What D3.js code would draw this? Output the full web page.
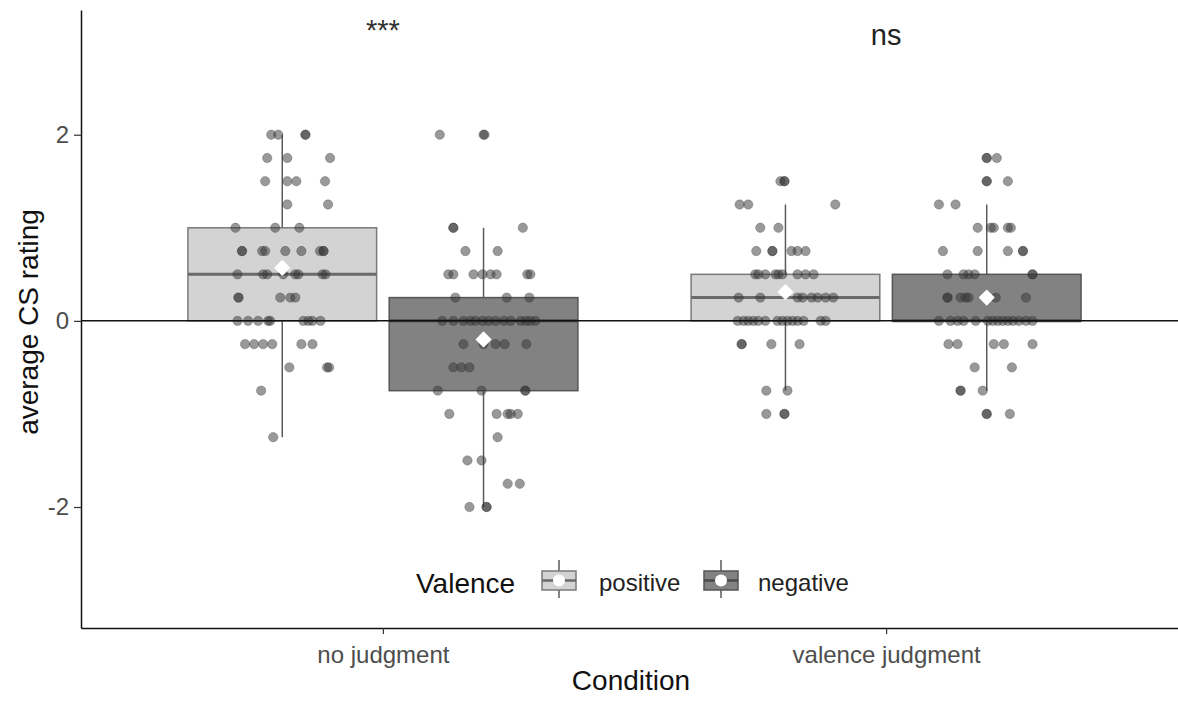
<!DOCTYPE html>
<html>
<head>
<meta charset="utf-8">
<script src="https://cdn.jsdelivr.net/npm/d3@7"></script>
<style>
body { margin: 0; background: #fff; }
text { font-family: "Liberation Sans", Arial, sans-serif; }
</style>
</head>
<body>
<svg id="chart" width="1178" height="702"></svg>
<script>
const svgEl = document.getElementById("chart")
const width = +svgEl.getAttribute("width")
const height = +svgEl.getAttribute("height")
const svg = d3.select("#chart")

// dati
const conditions = ["no judgment", "valence judgment"]
const valences = ["positive", "negative"]
const yTicks = [-2, 0, 2]
// statistiche dei box, [condizione][valenza]
const whiskLo = [[-1.25, -2], [-0.75, -0.75]]
const q1 = [[0, -0.75], [0, 0]]
const median = [[0.5, 0], [0.25, 0]]
const q3 = [[1, 0.25], [0.5, 0.5]]
const whiskHi = [[2, 1], [1.25, 1.25]]
const means = [[0.57, -0.2], [0.31, 0.25]]
const signif = ["***", "ns"]

// punti: [valore, [jitter in unita' dell'asse x]]
const ptsNoPos = [
  [2, [-0.022, -0.008, 0.046, 0.046]],
  [1.75, [-0.03, 0.01, 0.095]],
  [1.5, [-0.034, 0.01, 0.028, 0.085]],
  [1.25, [0.01, 0.091]],
  [1, [-0.093, -0.014, 0.034]],
  [0.75, [-0.08, -0.08, -0.04, -0.034, 0.006, 0.038, 0.075, 0.082, 0.082]],
  [0.5, [-0.089, -0.038, -0.03, 0.002, 0.026, 0.032, 0.08, 0.086]],
  [0.25, [-0.087, -0.087, -0.004, 0.016, 0.026]],
  [0, [-0.089, -0.068, -0.048, -0.028, -0.024, 0.042, 0.052, 0.06, 0.076]],
  [-0.25, [-0.074, -0.056, -0.038, -0.02, 0.038, 0.06]],
  [-0.5, [0.014, 0.089, 0.093]],
  [-0.75, [-0.042]],
  [-1.25, [-0.018]]
]
const ptsNoNeg = [
  [2, [-0.087, 0, 0.002]],
  [1, [-0.06, -0.06, 0.078]],
  [0.75, [-0.036, 0.028]],
  [0.5, [-0.07, -0.06, -0.02, -0.002, 0.014, 0.026, 0.087, 0.093]],
  [0.25, [-0.056, 0.046, 0.091]],
  [0, [-0.082, -0.06, -0.04, -0.026, -0.016, -0.002, 0.01, 0.024, 0.04, 0.054, 0.074, 0.084, 0.093, 0.103]],
  [-0.25, [-0.04, 0, 0.024, 0.042, 0.085]],
  [-0.5, [-0.06, -0.044, -0.028]],
  [-0.75, [-0.091, -0.004, 0.083, 0.083]],
  [-1, [-0.068, 0.026, 0.048, 0.054, 0.068]],
  [-1.25, [0.028]],
  [-1.5, [-0.032, -0.004]],
  [-1.75, [0.048, 0.072]],
  [-2, [-0.028, 0.006, 0.006]]
]
const ptsValPos = [
  [1.5, [-0.01, -0.002, -0.002]],
  [1.25, [-0.091, -0.074, 0.099]],
  [1, [-0.05, -0.014]],
  [0.75, [-0.058, -0.026, -0.026, 0.012, 0.024, 0.04]],
  [0.5, [-0.06, -0.054, -0.04, -0.02, -0.014, -0.006, 0.024, 0.04, 0.056]],
  [0.25, [-0.093, -0.05, 0.024, 0.034, 0.052, 0.064, 0.08, 0.095]],
  [0, [-0.095, -0.083, -0.074, -0.064, -0.054, -0.04, -0.016, -0.006, 0.004, 0.014, 0.024, 0.036, 0.07, 0.08]],
  [-0.25, [-0.087, -0.087, -0.028, 0.028]],
  [-0.75, [-0.038, 0.004]],
  [-1, [-0.038, -0.002, -0.002]]
]
const ptsValNeg = [
  [1.75, [0, 0, 0.02]],
  [1.5, [0, 0, 0.042]],
  [1.25, [-0.095, -0.062]],
  [1, [-0.018, 0.008, 0.014, 0.042, 0.048]],
  [0.75, [-0.087, -0.018, 0.042, 0.072, 0.072]],
  [0.5, [-0.078, -0.046, -0.036, -0.024, 0.091, 0.091]],
  [0.25, [-0.078, -0.078, -0.052, -0.042, -0.036, 0.018, 0.078]],
  [0, [-0.095, -0.072, -0.058, -0.046, -0.022, 0.002, 0.012, 0.022, 0.032, 0.042, 0.052, 0.064, 0.078, 0.091]],
  [-0.25, [-0.076, -0.058, 0.014, 0.034, 0.091]],
  [-0.5, [-0.024, 0.05]],
  [-0.75, [-0.052, -0.052, -0.008]],
  [-1, [0, 0, 0.046]]
]
const points = [[ptsNoPos, ptsNoNeg], [ptsValPos, ptsValNeg]]

// stile
const fillColor = { positive: "#d3d3d3", negative: "#828282" }
const strokeColor = { positive: "#7a7a7a", negative: "#555555" }
const dodge = { positive: -0.2, negative: 0.2 }
const boxW = 0.375

const padLeft = 81, padBottom = 628, padTop = 10
const x = d3.scaleLinear().domain([0.4, 2.6]).range([padLeft, 1188])
const y = d3.scaleLinear().domain([-3.3, 3.34]).range([padBottom, padTop])

// tabella piatta per i box
const boxes = []
conditions.forEach((c, i) => valences.forEach((v, j) => {
  boxes.push({ c: i + 1, v: v, lo: whiskLo[i][j], q1: q1[i][j], med: median[i][j],
    q3: q3[i][j], hi: whiskHi[i][j], mean: means[i][j], pts: points[i][j] })
}))

const gBox = svg.append("g")
boxes.forEach(b => {
  const cx = x(b.c + dodge[b.v])
  gBox.append("line").attr("x1", cx).attr("x2", cx).attr("y1", y(b.hi)).attr("y2", y(b.q3))
    .attr("stroke", "#5a5a5a").attr("stroke-width", 1.5)
  gBox.append("line").attr("x1", cx).attr("x2", cx).attr("y1", y(b.q1)).attr("y2", y(b.lo))
    .attr("stroke", "#5a5a5a").attr("stroke-width", 1.5)
  gBox.append("rect")
    .attr("x", x(b.c + dodge[b.v] - boxW / 2))
    .attr("width", x(b.c + dodge[b.v] + boxW / 2) - x(b.c + dodge[b.v] - boxW / 2))
    .attr("y", y(b.q3)).attr("height", y(b.q1) - y(b.q3))
    .attr("fill", fillColor[b.v]).attr("stroke", strokeColor[b.v]).attr("stroke-width", 1.5)
  gBox.append("line")
    .attr("x1", x(b.c + dodge[b.v] - boxW / 2)).attr("x2", x(b.c + dodge[b.v] + boxW / 2))
    .attr("y1", y(b.med)).attr("y2", y(b.med))
    .attr("stroke", b.v == "positive" ? "#6a6a6a" : "#4a4a4a").attr("stroke-width", 3)
})

// punti jitter
const gPts = svg.append("g")
boxes.forEach(b => {
  b.pts.forEach(row => {
    row[1].forEach(j => {
      gPts.append("circle")
        .attr("cx", x(b.c + dodge[b.v] + j)).attr("cy", y(row[0])).attr("r", 4.7)
        .attr("fill", "#333").attr("fill-opacity", 0.5)
        .attr("stroke", "#333").attr("stroke-opacity", 0.35).attr("stroke-width", 0.8)
    })
  })
})

// linea dello zero
svg.append("line").attr("x1", padLeft).attr("x2", width).attr("y1", y(0)).attr("y2", y(0))
  .attr("stroke", "#111").attr("stroke-width", 1.5)

// medie
boxes.forEach(b => {
  svg.append("path")
    .attr("d", d3.symbol(d3.symbolSquare, 100)())
    .attr("transform", `translate(${x(b.c + dodge[b.v])},${y(b.mean)}) rotate(45)`)
    .attr("fill", "#fff").attr("stroke", "#fff").attr("stroke-width", 1.5).attr("stroke-linejoin", "round")
})

// assi
const yAxis = svg.append("g").attr("transform", `translate(${padLeft},0)`)
  .call(d3.axisLeft(y).tickValues(yTicks).tickSize(7).tickPadding(5).tickSizeOuter(0).tickFormat(d3.format("d")))
const xAxis = svg.append("g").attr("transform", `translate(0,${padBottom})`)
  .call(d3.axisBottom(x).tickValues([1, 2]).tickSize(6).tickPadding(12).tickSizeOuter(0).tickFormat(d => conditions[d - 1]))
;[yAxis, xAxis].forEach(a => {
  a.select(".domain").attr("stroke", "#111").attr("stroke-width", 1.5)
  a.selectAll(".tick line").attr("stroke", "#333").attr("stroke-width", 1.2)
  a.selectAll(".tick text").attr("fill", "#4d4d4d").attr("font-size", "24px")
    .attr("font-family", "Liberation Sans, Arial, sans-serif")
})
yAxis.selectAll(".tick text").text(d => d < 0 ? "-" + Math.abs(d) : d)

svg.append("text").attr("x", 631).attr("y", 690).attr("text-anchor", "middle")
  .attr("font-size", "28px").attr("fill", "#111").text("Condition")
svg.append("text").attr("transform", `translate(38,${322}) rotate(-90)`).attr("text-anchor", "middle")
  .attr("font-size", "28px").attr("fill", "#111").text("average CS rating")

// significativita'
svg.append("text").attr("x", x(1)).attr("y", 40).attr("text-anchor", "middle")
  .attr("font-size", "29px").attr("fill", "#333").text(signif[0])
svg.append("text").attr("x", x(2)).attr("y", 45).attr("text-anchor", "middle")
  .attr("font-size", "29px").attr("fill", "#222").text(signif[1])

// legenda
const leg = svg.append("g")
leg.append("text").attr("x", 416).attr("y", 593).attr("font-size", "28px").attr("fill", "#111").text("Valence")
const keyX = { positive: 542, negative: 704 }
const labX = { positive: 599, negative: 758 }
valences.forEach(v => {
  const kx = keyX[v], kw = 34, cx = kx + kw / 2
  leg.append("line").attr("x1", cx).attr("x2", cx).attr("y1", 560).attr("y2", 598)
    .attr("stroke", "#5a5a5a").attr("stroke-width", 1.5)
  leg.append("rect").attr("x", kx).attr("y", 571).attr("width", kw).attr("height", 19)
    .attr("fill", fillColor[v]).attr("stroke", strokeColor[v]).attr("stroke-width", 1.5)
  leg.append("line").attr("x1", kx).attr("x2", kx + kw).attr("y1", 580.5).attr("y2", 580.5)
    .attr("stroke", v == "positive" ? "#6a6a6a" : "#4a4a4a").attr("stroke-width", 2.5)
  leg.append("circle").attr("cx", cx).attr("cy", 580.5).attr("r", 6).attr("fill", "#fff")
  leg.append("text").attr("x", labX[v]).attr("y", 591).attr("font-size", "24px").attr("fill", "#222").text(v)
})
</script>
</body>
</html>
